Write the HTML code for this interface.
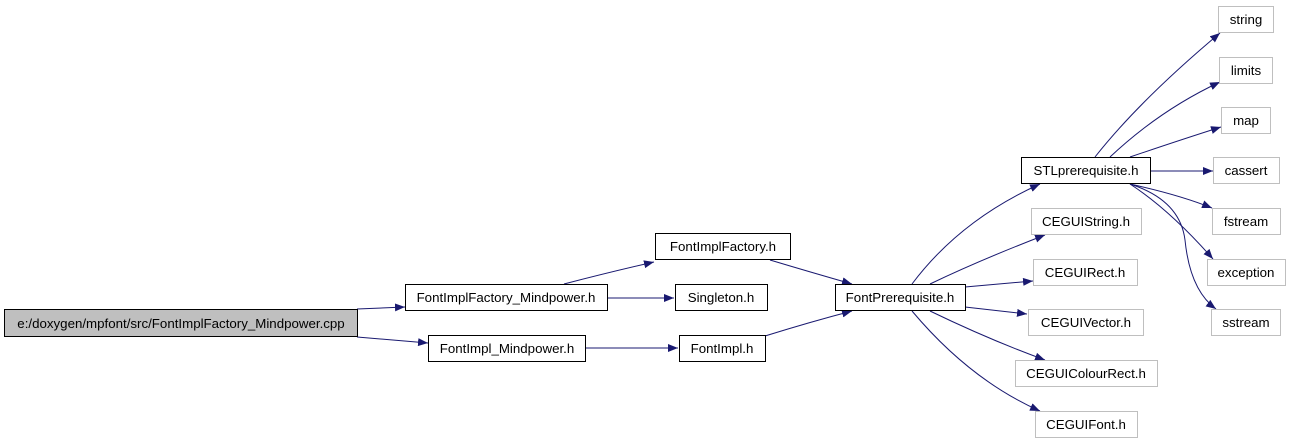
<!DOCTYPE html>
<html><head><meta charset="utf-8"><style>
html,body{margin:0;padding:0;background:#fff;}
svg text{font-family:"Liberation Sans",sans-serif;font-size:13.3px;fill:#000;text-anchor:middle;}
</style></head><body>
<svg width="1290" height="442" viewBox="0 0 1290 442" xmlns="http://www.w3.org/2000/svg">
<defs><marker id="a" markerWidth="10" markerHeight="8" refX="10" refY="4" orient="auto" markerUnits="userSpaceOnUse"><path d="M0,0 L10,4 L0,8 z" fill="#191970"/></marker></defs>
<g fill="none" stroke="#191970" stroke-width="1" marker-end="url(#a)">
<path d="M357,309 L405,307"/>
<path d="M357,337 L428,343"/>
<path d="M564,284 Q610,272 654,262"/>
<path d="M607,298 L674,298"/>
<path d="M585,348 L678,348"/>
<path d="M770,260 Q810,272 852,284"/>
<path d="M765,336 Q810,322 852,311"/>
<path d="M912,284 Q960,220 1040,184"/>
<path d="M930,284 Q980,260 1045,235"/>
<path d="M965,287 L1033,281"/>
<path d="M965,307 L1027,314"/>
<path d="M930,311 Q990,340 1045,360"/>
<path d="M912,311 Q970,380 1040,411"/>
<path d="M1095,157 Q1140,100 1220,33"/>
<path d="M1110,157 Q1160,110 1220,82"/>
<path d="M1130,157 Q1180,140 1221,127"/>
<path d="M1150,171 L1213,171"/>
<path d="M1130,184 Q1180,195 1212,208"/>
<path d="M1130,184 Q1170,210 1213,259"/>
<path d="M1130,184 Q1180,200 1185,240 Q1190,290 1216,309"/>
</g>
<g stroke-width="1">
<rect x="4.5" y="309.5" width="353" height="27" fill="#bfbfbf" stroke="#000"/>
<rect x="405.5" y="284.5" width="202" height="26" fill="#fff" stroke="#000"/>
<rect x="428.5" y="335.5" width="157" height="26" fill="#fff" stroke="#000"/>
<rect x="655.5" y="233.5" width="135" height="26" fill="#fff" stroke="#000"/>
<rect x="675.5" y="284.5" width="92" height="26" fill="#fff" stroke="#000"/>
<rect x="679.5" y="335.5" width="86" height="26" fill="#fff" stroke="#000"/>
<rect x="835.5" y="284.5" width="130" height="26" fill="#fff" stroke="#000"/>
<rect x="1021.5" y="157.5" width="129" height="26" fill="#fff" stroke="#000"/>
<g fill="#fff" stroke="#bfbfbf">
<rect x="1031.5" y="208.5" width="110" height="26"/>
<rect x="1033.5" y="259.5" width="104" height="26"/>
<rect x="1028.5" y="309.5" width="115" height="26"/>
<rect x="1015.5" y="360.5" width="142" height="26"/>
<rect x="1035.5" y="411.5" width="102" height="26"/>
<rect x="1218.5" y="6.5" width="55" height="26"/>
<rect x="1219.5" y="57.5" width="53" height="26"/>
<rect x="1221.5" y="107.5" width="49" height="26"/>
<rect x="1213.5" y="157.5" width="66" height="26"/>
<rect x="1212.5" y="208.5" width="68" height="26"/>
<rect x="1207.5" y="259.5" width="78" height="26"/>
<rect x="1211.5" y="309.5" width="69" height="26"/>
</g></g>
<text x="181" y="328">e:/doxygen/mpfont/src/FontImplFactory_Mindpower.cpp</text>
<text x="506" y="302">FontImplFactory_Mindpower.h</text>
<text x="507" y="353">FontImpl_Mindpower.h</text>
<text x="723" y="251">FontImplFactory.h</text>
<text x="721" y="302">Singleton.h</text>
<text x="722" y="353">FontImpl.h</text>
<text x="900" y="302">FontPrerequisite.h</text>
<text x="1086" y="175">STLprerequisite.h</text>
<text x="1086" y="226">CEGUIString.h</text>
<text x="1085" y="277">CEGUIRect.h</text>
<text x="1086" y="327">CEGUIVector.h</text>
<text x="1086" y="378">CEGUIColourRect.h</text>
<text x="1086" y="429">CEGUIFont.h</text>
<text x="1246" y="24">string</text>
<text x="1246" y="75">limits</text>
<text x="1246" y="125">map</text>
<text x="1246" y="175">cassert</text>
<text x="1246" y="226">fstream</text>
<text x="1246" y="277">exception</text>
<text x="1246" y="327">sstream</text>
</svg>
</body></html>
